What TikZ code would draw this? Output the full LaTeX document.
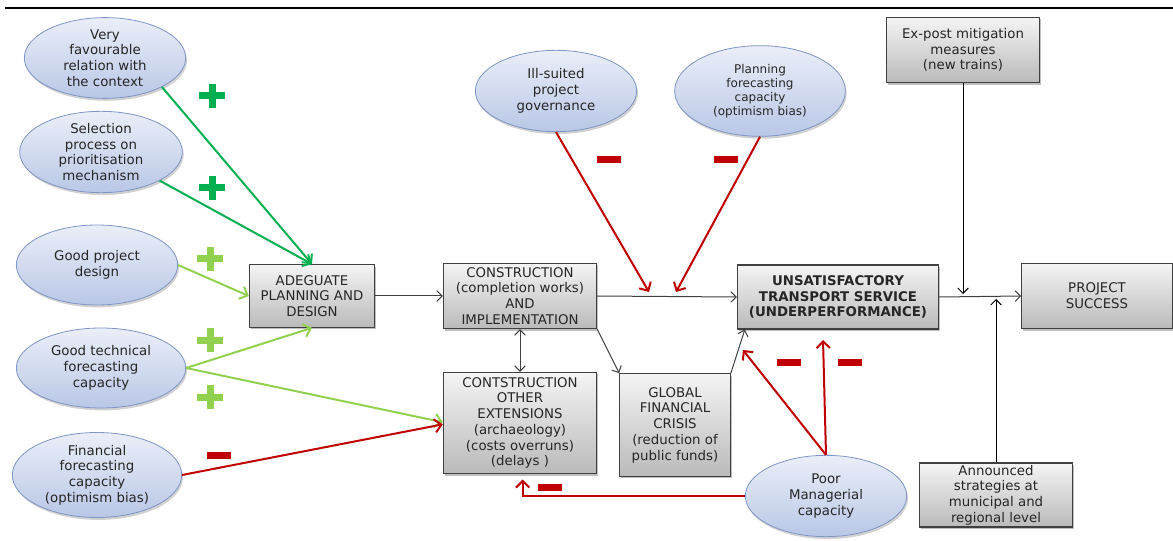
\documentclass[tikz,border=0pt]{standalone}
\usepackage{fontspec}
\setmainfont{DejaVu Sans}
\usepackage{tikz}
\usetikzlibrary{shapes.geometric,shadows,arrows.meta}
\definecolor{PSText}{HTML}{262626}
\definecolor{PSLine}{HTML}{404040}
\definecolor{PSEllTop}{HTML}{EAEEF8}
\definecolor{PSEllBot}{HTML}{B9C7E6}
\definecolor{PSEllEdge}{HTML}{7F95C4}
\definecolor{PSBoxTop}{HTML}{F4F4F4}
\definecolor{PSBoxBot}{HTML}{BABABA}
\definecolor{PSGreen}{HTML}{00B050}
\definecolor{PSLime}{HTML}{92D050}
\definecolor{PSRed}{HTML}{C00000}
% plus and minus marks, centre in px
\newcommand{\plusmark}[3]{%
  \fill[#3] (#1-13,#2-3.5) rectangle ++(26,7);
  \fill[#3] (#1-3.5,#2-12) rectangle ++(7,24);}
\newcommand{\minusmark}[2]{%
  \fill[PSRed] (#1-12,#2-3.5) rectangle ++(24,7);}

\begin{document}
\begin{tikzpicture}[x=0.75pt,y=-0.75pt,
  every node/.style={font=\fontsize{10}{11.8}\selectfont,text=PSText,align=center,inner sep=0pt},
  factor/.style={ellipse,draw=PSEllEdge,line width=.6pt,top color=PSEllTop,bottom color=PSEllBot,
    drop shadow={shadow xshift=1pt,shadow yshift=-1.8pt,fill=black,opacity=.18}},
  stage/.style={rectangle,draw=PSLine,line width=.8pt,top color=PSBoxTop,bottom color=PSBoxBot,
    drop shadow={shadow xshift=1.2pt,shadow yshift=-1.5pt,fill=black,opacity=.25}},
  flow/.style={PSLine,line width=.75pt,-{Straight Barb[length=4pt,width=8pt]}},
  poslink/.style={PSGreen,line width=1.5pt,-{Straight Barb[length=5pt,width=10pt]}},
  limelink/.style={PSLime,line width=1.5pt,-{Straight Barb[length=5pt,width=10pt]}},
  neglink/.style={PSRed,line width=1.5pt,-{Straight Barb[length=5pt,width=10pt]}}]
\path[use as bounding box] (0,0) rectangle (1173,541);
\fill[white] (0,0) rectangle (1173,541);
\draw[black,line width=2.2pt] (5,8) -- (1173,8);

% factors
\node[factor,minimum width=121pt,minimum height=60pt] (context) at (105,58) {Very\\favourable\\relation with\\the context};
\node[factor,minimum width=122pt,minimum height=60pt] (selection) at (101,152) {Selection\\process on\\prioritisation\\mechanism};
\node[factor,minimum width=121pt,minimum height=60pt] (design) at (97,265) {Good project\\design};
\node[factor,minimum width=127pt,minimum height=60pt] (technical) at (101,368) {Good technical\\forecasting\\capacity};
\node[factor,minimum width=127pt,minimum height=60pt] (financial) at (97,475) {Financial\\forecasting\\capacity\\(optimism bias)};
\node[factor,minimum width=121pt,minimum height=61pt] (governance) at (556,91) {Ill-suited\\project\\governance};
\node[factor,minimum width=128pt,minimum height=68pt,font=\fontsize{9}{10.5}\selectfont] (planning) at (760,91) {Planning\\forecasting\\capacity\\(optimism bias)};
\node[factor,minimum width=121pt,minimum height=61pt] (managerial) at (826,496) {Poor\\Managerial\\capacity};

% stages
\node[stage,minimum width=94pt,minimum height=47pt] (adequate) at (312,296) {ADEGUATE\\PLANNING AND\\DESIGN};
\node[stage,minimum width=115pt,minimum height=49pt] (construction) at (520,296) {CONSTRUCTION\\(completion works)\\AND\\IMPLEMENTATION};
\node[stage,minimum width=115pt,minimum height=76pt] (extensions) at (520,423) {CONTSTRUCTION\\OTHER\\EXTENSIONS\\(archaeology)\\(costs overruns)\\(delays )};
\node[stage,minimum width=83pt,minimum height=77pt] (crisis) at (675,425) {GLOBAL\\FINANCIAL\\CRISIS\\(reduction of\\public funds)};
\node[stage,minimum width=151pt,minimum height=48pt,font=\bfseries\fontsize{10}{11.8}\selectfont] (service) at (838,297) {UNSATISFACTORY\\TRANSPORT SERVICE\\(UNDERPERFORMANCE)};
\node[stage,minimum width=113pt,minimum height=49pt] (success) at (1097,296) {PROJECT\\SUCCESS};
\node[stage,minimum width=115pt,minimum height=49pt] (mitigation) at (963,50) {Ex-post mitigation\\measures\\(new trains)};
\node[stage,minimum width=115pt,minimum height=48pt] (strategies) at (996,495) {Announced\\strategies at\\municipal and\\regional level};

% free ends
\coordinate (govtip) at (649,292);
\coordinate (plantip) at (676,292);
\coordinate (mgrtipA) at (743,350);
\coordinate (mgrtipB) at (823,340);
\coordinate (mitigtip) at (963,294);
\coordinate (strattip) at (996,299);

% main flow
\draw[flow] (adequate.east) -- (construction.west);
\draw[flow] (construction.east) -- (service.west);
\draw[flow] (service.east) -- (success.west);
\draw[flow,{Straight Barb[length=4pt,width=8pt]}-{Straight Barb[length=4pt,width=8pt]}] (construction.south) -- (extensions.north);
\draw[flow] (construction.south east) -- (crisis.north west);
\draw[flow] (crisis.north east) -- ([xshift=6pt]service.south west);
\draw[flow,black] (mitigation.south) -- (mitigtip);
\draw[flow,black] (strategies.north) -- (strattip);

% positive influences
\draw[poslink] (context.-27) -- (adequate.north);
\draw[poslink] (selection.-26) -- (adequate.north);
\draw[limelink] (design.east) -- (adequate.west);
\draw[limelink] (technical.east) -- (adequate.south);
\draw[limelink] (technical.east) -- ([yshift=.6pt]extensions.west);

% negative influences
\draw[neglink] (financial.east) -- ([yshift=-1pt]extensions.west);
\draw[neglink] (governance.south) -- (govtip);
\draw[neglink] (planning.south) -- (plantip);
\draw[neglink] (managerial.north) -- (mgrtipA);
\draw[neglink] (managerial.north) -- (mgrtipB);
\draw[neglink] (managerial.west) -| ([xshift=2pt,yshift=-4pt]extensions.south);

% signs
\plusmark{212}{96}{PSGreen}
\plusmark{212}{188}{PSGreen}
\plusmark{210}{259}{PSLime}
\plusmark{210}{340}{PSLime}
\plusmark{210}{397}{PSLime}
\minusmark{219}{455}
\minusmark{609}{160}
\minusmark{726}{160}
\minusmark{789}{362}
\minusmark{850}{362}
\minusmark{550}{487}
\end{tikzpicture}
\end{document}
